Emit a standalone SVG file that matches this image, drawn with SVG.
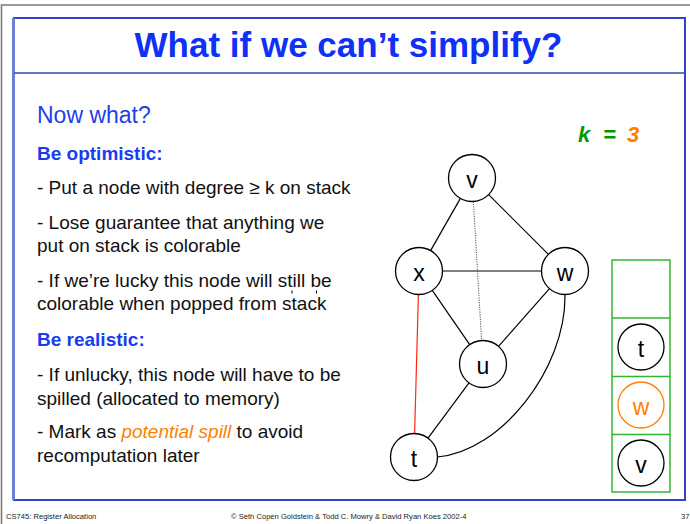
<svg xmlns="http://www.w3.org/2000/svg" width="690" height="524" viewBox="0 0 690 524">
<style>
  text { font-family: "Liberation Sans", Arial, sans-serif; }
  .body { font-size: 19px; fill: #111; }
  .head { font-size: 19px; font-weight: bold; fill: #1a3cf0; }
  .node circle { fill: #fff; stroke: #000; stroke-width: 1.3; }
  .node text { font-size: 23px; text-anchor: middle; fill: #000; }
  .edge { stroke: #000; stroke-width: 1.2; fill: none; }
  .foot { font-size: 7.6px; fill: #222; }
</style>
<rect width="690" height="524" fill="#fff"/>
<!-- outer gray border -->
<path d="M1.5,524 V5 H690" fill="none" stroke="#7a7a7a" stroke-width="1.6"/>
<!-- blue frame -->
<rect x="14" y="18" width="671" height="482" fill="none" stroke="#3344cc" stroke-width="2"/>
<line x1="13.5" y1="18" x2="13.5" y2="500" stroke="#6b7fd8" stroke-width="3"/>
<line x1="14" y1="73" x2="685" y2="73" stroke="#3344aa" stroke-width="1.5"/>

<text x="348.5" y="57" font-size="35" font-weight="bold" fill="#0f30f5" text-anchor="middle">What if we can’t simplify?</text>

<text x="37" y="123" font-size="23" fill="#1f3fe8">Now what?</text>
<text x="37" y="160" class="head">Be optimistic:</text>
<text x="37" y="194" class="body">- Put a node with degree ≥ k on stack</text>
<text x="37" y="229" class="body">- Lose guarantee that anything we</text>
<text x="37" y="252" class="body">put on stack is colorable</text>
<text x="37" y="287" class="body">- If we’re lucky this node will still be</text>
<text x="37" y="310" class="body">colorable when popped from stack</text>
<line x1="292" y1="290.5" x2="292" y2="293.5" stroke="#000" stroke-width="1"/>
<line x1="316.5" y1="290.5" x2="316.5" y2="293.5" stroke="#000" stroke-width="1"/>
<text x="37" y="346" class="head">Be realistic:</text>
<text x="37" y="381" class="body">- If unlucky, this node will have to be</text>
<text x="37" y="405" class="body">spilled (allocated to memory)</text>
<text x="37" y="438" class="body">- Mark as <tspan fill="#ff7f00" font-style="italic">potential spill</tspan> to avoid</text>
<text x="37" y="462" class="body">recomputation later</text>

<text y="142" font-size="22" font-weight="bold" font-style="italic"><tspan x="578" fill="#009a00">k</tspan><tspan x="603" fill="#009a00">=</tspan><tspan x="627" fill="#ff7f00">3</tspan></text>

<g id="connectors">
  <line class="edge" x1="460.4" y1="198.4" x2="430.6" y2="250.6"/>
  <line class="edge" x1="488.6" y1="194.6" x2="548.4" y2="254.4"/>
  <line class="edge" x1="442.5" y1="271" x2="541.5" y2="271"/>
  <line x1="473.4" y1="201.5" x2="481.6" y2="340.5" stroke="#555" stroke-width="1" stroke-dasharray="1.2,1.2"/>
  <line class="edge" x1="432.3" y1="290.4" x2="469.7" y2="344.6"/>
  <line class="edge" x1="549.5" y1="288.6" x2="498.5" y2="346.4"/>
  <line x1="418.4" y1="294.5" x2="414.6" y2="433.5" stroke="#ff2a10" stroke-width="1.2"/>
  <line class="edge" x1="469" y1="382.9" x2="428" y2="438.1"/>
  <path class="edge" d="M565,294.5 C566,370 500,452 437.5,457"/>
</g>

<g id="node-v" class="node"><circle cx="472" cy="178" r="23.5"/><text x="472" y="188">v</text></g>
<g id="node-x" class="node"><circle cx="419" cy="271" r="23.5"/><text x="419" y="281">x</text></g>
<g id="node-w" class="node"><circle cx="565" cy="271" r="23.5"/><text x="565" y="281">w</text></g>
<g id="node-u" class="node"><circle cx="483" cy="364" r="23.5"/><text x="483" y="374">u</text></g>
<g id="node-t" class="node"><circle cx="414" cy="457" r="23.5"/><text x="414" y="467">t</text></g>

<g id="stack">
  <rect x="612" y="260" width="58" height="232" fill="none" stroke="#33b533" stroke-width="1.5"/>
  <line x1="612" y1="318" x2="670" y2="318" stroke="#33b533" stroke-width="1.5"/>
  <line x1="612" y1="376.5" x2="670" y2="376.5" stroke="#33b533" stroke-width="1.5"/>
  <line x1="612" y1="434.5" x2="670" y2="434.5" stroke="#33b533" stroke-width="1.5"/>
</g>
<g id="stack-t" class="node"><circle cx="641" cy="347" r="23"/><text x="641" y="357">t</text></g>
<g id="stack-w" class="node"><circle cx="641" cy="405" r="23" style="stroke:#ff8000"/><text x="641" y="415" style="fill:#ff8000">w</text></g>
<g id="stack-v" class="node"><circle cx="641" cy="463" r="23"/><text x="641" y="473">v</text></g>

<text x="6" y="519" class="foot">CS745: Register Allocation</text>
<text x="231" y="519" class="foot">© Seth Copen Goldstein &amp; Todd C. Mowry &amp; David Ryan Koes 2002-4</text>
<text x="681" y="519" class="foot">37</text>
</svg>
